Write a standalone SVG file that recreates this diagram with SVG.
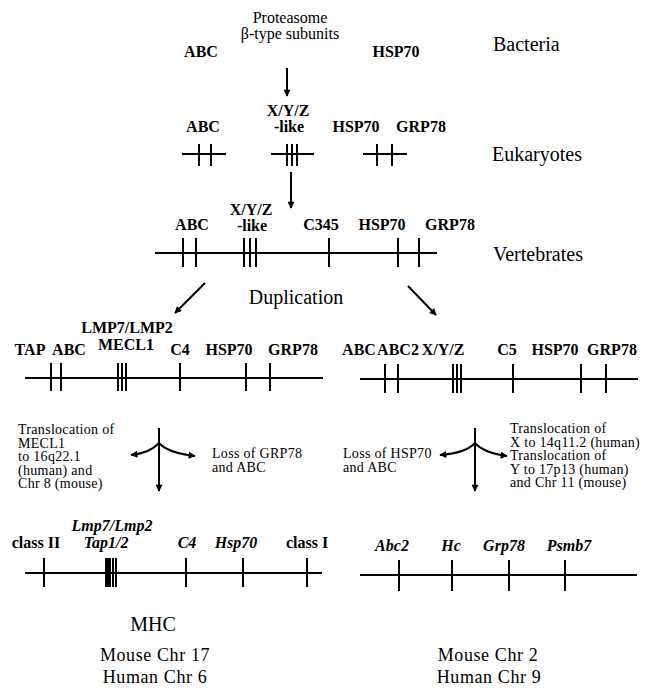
<svg xmlns="http://www.w3.org/2000/svg" width="656" height="688" viewBox="0 0 656 688">
<defs>
<marker id="ah" viewBox="0 0 10 10" refX="9" refY="5" markerWidth="4.5" markerHeight="3.5" orient="auto" markerUnits="strokeWidth">
<path d="M0,0 L10,5 L0,10 z" fill="#000"/>
</marker>
<style>
text{font-family:"Liberation Serif","Times New Roman",serif;fill:#000}
.g{font-size:16px;font-weight:bold;text-anchor:middle}
.gi{font-size:16px;font-weight:bold;font-style:italic;text-anchor:middle}
.big{font-size:20px}
.bigc{font-size:20px;text-anchor:middle}
.sp{font-size:18px;letter-spacing:0.6px;text-anchor:middle}
.a{font-size:14px;letter-spacing:0.3px}
.p{font-size:16px;text-anchor:middle}
.chr{stroke:#000;stroke-width:2;fill:none}
.tk{stroke:#000;stroke-width:2}
.con{stroke:#000;stroke-width:2;fill:none;marker-end:url(#ah)}
</style>
</defs>
<rect width="656" height="688" fill="#fff"/>

<g id="bacteria">
<text class="p" x="290" y="23">Proteasome</text>
<text class="p" x="290" y="39">β-type subunits</text>
<text class="g" x="201" y="57">ABC</text>
<text class="g" x="396" y="57">HSP70</text>
<text class="big" x="493" y="51">Bacteria</text>
</g>

<g id="eukaryotes">
<text class="g" x="203" y="132">ABC</text>
<text class="g" x="288" y="116">X/Y/Z</text>
<text class="g" x="289" y="132">-like</text>
<text class="g" x="356" y="132">HSP70</text>
<text class="g" x="421" y="132">GRP78</text>
<path class="chr" d="M182,154H226 M271,154H314 M363,154H407"/>
<path class="tk" d="M199,144V166 M211,144V166 M287,144V166 M292,144V166 M297,144V166 M377,144V166 M392,144V166"/>
<text class="big" x="492" y="161">Eukaryotes</text>
</g>

<g id="vertebrates">
<text class="g" x="192" y="230">ABC</text>
<text class="g" x="251" y="215">X/Y/Z</text>
<text class="g" x="252" y="231">-like</text>
<text class="g" x="321" y="230">C345</text>
<text class="g" x="382" y="230">HSP70</text>
<text class="g" x="450" y="230">GRP78</text>
<path class="chr" d="M155,253H437"/>
<path class="tk" d="M183,238V267 M196,238V267 M244,238V267 M250,238V267 M256,238V267 M329,238V267 M398,238V267 M419,238V267"/>
<text class="big" x="493" y="261">Vertebrates</text>
<text class="bigc" x="296" y="304">Duplication</text>
</g>

<g id="left-ancestral">
<text class="g" x="127" y="333">LMP7/LMP2</text>
<text class="g" x="126" y="350">MECL1</text>
<text class="g" x="30" y="355">TAP</text>
<text class="g" x="69" y="355">ABC</text>
<text class="g" x="180" y="355">C4</text>
<text class="g" x="229" y="355">HSP70</text>
<text class="g" x="293" y="355">GRP78</text>
<path class="chr" d="M25,378H323"/>
<path class="tk" d="M51,363V391 M61,363V391 M118,363V391 M122,363V391 M126,363V391 M180,363V391 M246,363V391 M270,363V391"/>
</g>

<g id="right-ancestral">
<text class="g" x="359" y="355">ABC</text>
<text class="g" x="398" y="355">ABC2</text>
<text class="g" x="443" y="355">X/Y/Z</text>
<text class="g" x="507" y="355">C5</text>
<text class="g" x="555" y="355">HSP70</text>
<text class="g" x="612" y="355">GRP78</text>
<path class="chr" d="M360,379H638"/>
<path class="tk" d="M385,364V393 M398,364V393 M453,364V393 M457,364V393 M461,364V393 M513,364V393 M581,364V393 M606,364V393"/>
</g>

<g id="left-events">
<text class="a" x="18" y="434">Translocation of</text>
<text class="a" x="18" y="447.5">MECL1</text>
<text class="a" x="18" y="461">to 16q22.1</text>
<text class="a" x="18" y="474.5">(human) and</text>
<text class="a" x="18" y="488">Chr 8 (mouse)</text>
<text class="a" x="212" y="458">Loss of GRP78</text>
<text class="a" x="212" y="472">and ABC</text>
</g>

<g id="right-events">
<text class="a" x="343" y="458">Loss of HSP70</text>
<text class="a" x="343" y="472">and ABC</text>
<text class="a" x="510" y="433">Translocation of</text>
<text class="a" x="510" y="446.5">X to 14q11.2 (human)</text>
<text class="a" x="510" y="460">Translocation of</text>
<text class="a" x="510" y="473.5">Y to 17p13 (human)</text>
<text class="a" x="510" y="487">and Chr 11 (mouse)</text>
</g>

<g id="mhc">
<text class="g" x="36" y="548">class II</text>
<text class="gi" x="112" y="531">Lmp7/Lmp2</text>
<text class="gi" x="106" y="548">Tap1/2</text>
<text class="gi" x="187" y="548">C4</text>
<text class="gi" x="236" y="548">Hsp70</text>
<text class="g" x="307" y="548">class I</text>
<path class="chr" d="M25,573H322"/>
<path class="tk" d="M44,558V587 M106,558V587 M108,558V587 M110,558V587 M113,558V587 M116,558V587 M186,558V587 M243,558V587 M307,558V587"/>
<text class="bigc" x="153" y="631">MHC</text>
<text class="sp" x="155" y="661">Mouse Chr 17</text>
<text class="sp" x="155" y="683">Human Chr 6</text>
</g>

<g id="chr2">
<text class="gi" x="392" y="551">Abc2</text>
<text class="gi" x="451" y="551">Hc</text>
<text class="gi" x="504" y="551">Grp78</text>
<text class="gi" x="569" y="551">Psmb7</text>
<path class="chr" d="M360,575H637"/>
<path class="tk" d="M399,560V591 M452,560V591 M509,560V591 M565,560V591"/>
<text class="sp" x="488" y="661">Mouse Chr 2</text>
<text class="sp" x="489" y="683">Human Chr 9</text>
</g>

<g id="connectors">
<path class="con" d="M287,68V96"/>
<path class="con" d="M291,172V208"/>
<path class="con" d="M205,283L175,313"/>
<path class="con" d="M408,286L436,315"/>
<path class="tk" d="M159,428V445"/>
<path class="con" d="M159,440V491"/>
<path class="con" d="M159,443Q150,453 131,455"/>
<path class="con" d="M159,443Q168,453 195,456"/>
<path class="tk" d="M475,428V445"/>
<path class="con" d="M475,440V491"/>
<path class="con" d="M475,443Q466,453 440,455"/>
<path class="con" d="M475,443Q484,453 507,456"/>
</g>
</svg>
